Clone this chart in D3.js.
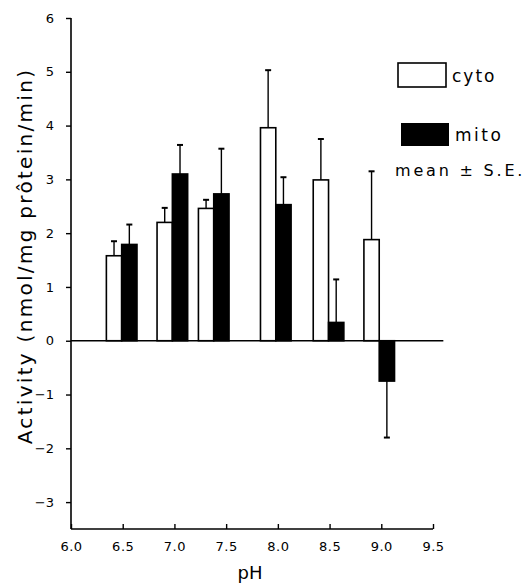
<!DOCTYPE html>
<html><head><meta charset="utf-8">
<script src="https://cdn.jsdelivr.net/npm/d3@7"></script>
<style>body{margin:0;background:#fff}svg{display:block}text{font-family:"DejaVu Sans",Verdana,sans-serif;fill:#000}</style>
</head><body>
<svg id="c" width="526" height="584"></svg>
<script>
const pH = [6.49, 6.98, 7.38, 7.98, 8.49, 8.98];
const cyto = [1.58, 2.20, 2.46, 3.96, 2.99, 1.88];
const cytoSE = [0.27, 0.27, 0.16, 1.07, 0.76, 1.27];
const mito = [1.79, 3.10, 2.73, 2.53, 0.34, -0.75];
const mitoSE = [0.37, 0.54, 0.84, 0.51, 0.80, 1.05];
const xTicks = [6.0, 6.5, 7.0, 7.5, 8.0, 8.5, 9.0, 9.5];
const yTicks = [-3, -2, -1, 0, 1, 2, 3, 4, 5, 6];
const barW = 0.148;

const svg = d3.select("#c");
const x = d3.scaleLinear().domain([6.0, 9.5]).range([71, 433]);
const y = d3.scaleLinear().domain([-3.5, 6]).range([529, 18]);

// axes
const yAxis = d3.axisLeft(y).tickValues(yTicks).tickSize(5).tickPadding(12)
  .tickFormat(d => d < 0 ? "\u2212" + Math.abs(d) : d);
const gy = svg.append("g").attr("transform", `translate(${x(6.0)},0)`).call(yAxis);
gy.select(".domain").attr("d", `M0,${y(6)}V${y(-3.5)}`).attr("stroke-width", 1.6);
gy.selectAll(".tick line").attr("stroke-width", 1.4);
gy.selectAll("text").attr("font-size", 13);

const xAxis = d3.axisBottom(x).tickValues(xTicks).tickSize(-5).tickPadding(13)
  .tickFormat(d3.format(".1f"));
const gx = svg.append("g").attr("transform", `translate(0,${y(-3.5)})`).call(xAxis);
gx.select(".domain").attr("d", `M${x(6)},0H${x(9.5)}`).attr("stroke-width", 1.6);
gx.selectAll(".tick line").attr("stroke-width", 1.4);
gx.selectAll("text").attr("font-size", 13).attr("letter-spacing", 0.5);

// zero line
svg.append("line").attr("x1", x(6.0)).attr("x2", x(9.6)).attr("y1", y(0)).attr("y2", y(0))
  .attr("stroke", "#000").attr("stroke-width", 1.6);

const rows = pH.map((p, i) => ({p, c: cyto[i], cs: cytoSE[i], m: mito[i], ms: mitoSE[i]}));

function errbar(cx, v, se) {
  const end = v >= 0 ? v + se : v - se;
  svg.append("line").attr("x1", cx).attr("x2", cx).attr("y1", y(v)).attr("y2", y(end))
    .attr("stroke", "#000").attr("stroke-width", 1.4);
  svg.append("line").attr("x1", cx - 3).attr("x2", cx + 3).attr("y1", y(end)).attr("y2", y(end))
    .attr("stroke", "#000").attr("stroke-width", 2);
}

rows.forEach(r => {
  errbar(x(r.p - barW / 2), r.c, r.cs);
  errbar(x(r.p + barW / 2), r.m, r.ms);
});

svg.selectAll("rect.cyto").data(rows).join("rect").attr("class", "cyto")
  .attr("x", d => x(d.p - barW)).attr("width", d => x(d.p) - x(d.p - barW))
  .attr("y", d => y(Math.max(0, d.c))).attr("height", d => Math.abs(y(d.c) - y(0)))
  .attr("fill", "#fff").attr("stroke", "#000").attr("stroke-width", 1.6);

svg.selectAll("rect.mito").data(rows).join("rect").attr("class", "mito")
  .attr("x", d => x(d.p)).attr("width", d => x(d.p + barW) - x(d.p))
  .attr("y", d => y(Math.max(0, d.m))).attr("height", d => Math.abs(y(d.m) - y(0)))
  .attr("fill", "#000").attr("stroke", "#000").attr("stroke-width", 1.6);

// legend
svg.append("rect").attr("x", 398).attr("y", 63).attr("width", 48).attr("height", 24)
  .attr("fill", "#fff").attr("stroke", "#000").attr("stroke-width", 1.6);
svg.append("text").attr("x", 452).attr("y", 82).attr("font-size", 17).attr("letter-spacing", 2).text("cyto");
svg.append("rect").attr("x", 401).attr("y", 123).attr("width", 48).attr("height", 23)
  .attr("fill", "#000");
svg.append("text").attr("x", 455).attr("y", 141).attr("font-size", 17).attr("letter-spacing", 2.5).text("mito");
svg.append("text").attr("x", 395).attr("y", 176).attr("font-size", 16).attr("letter-spacing", 2.8).text("mean \u00b1 S.E.");

// axis titles
svg.append("text").attr("x", 250).attr("y", 579).attr("text-anchor", "middle")
  .attr("font-size", 18).text("pH");
svg.append("text").attr("transform", "translate(32,256) rotate(-90)").attr("text-anchor", "middle")
  .attr("font-size", 20).attr("letter-spacing", 2.3).text("Activity  (nmol/mg prôtein/min)");
</script>
</body></html>
